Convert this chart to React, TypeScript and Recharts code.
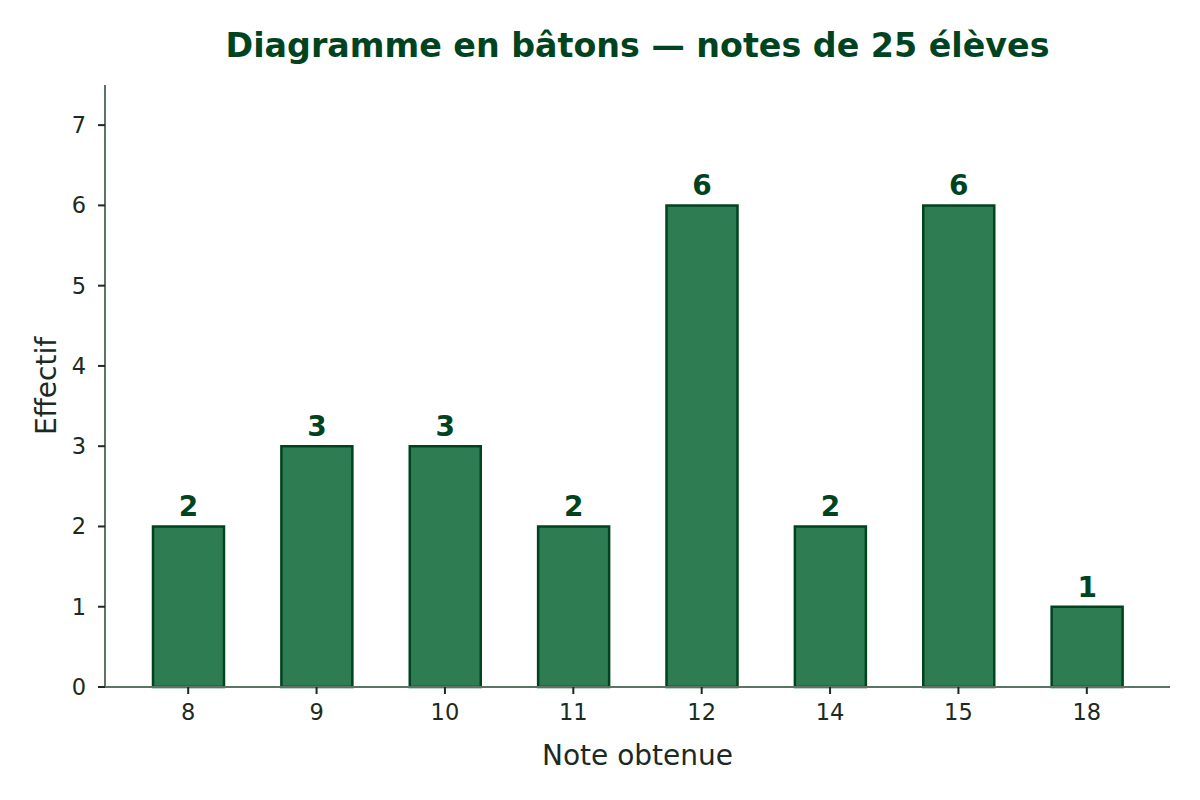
import React from 'react'
import { Bar, BarChart, LabelList, XAxis, YAxis } from 'recharts'

const notes = ['8', '9', '10', '11', '12', '14', '15', '18']
const effectifs = [2, 3, 3, 2, 6, 2, 6, 1]
const yTicks = [0, 1, 2, 3, 4, 5, 6, 7]

const data = notes.map((note, i) => ({ note, effectif: effectifs[i] }))

const font = '"DejaVu Sans", sans-serif'
const textColor = '#1b2a22'
const darkGreen = '#00441f'

const App = () => {
  return (
    <div style={{ position: 'absolute', left: 0, top: 0, width: 1200, height: 800, background: '#fff', fontFamily: font }}>
      <div
        style={{
          position: 'absolute',
          left: 105,
          width: 1065,
          top: 24,
          textAlign: 'center',
          fontSize: 33.3,
          fontWeight: 'bold',
          color: darkGreen,
          lineHeight: '44px',
        }}
      >
        Diagramme en bâtons — notes de 25 élèves
      </div>
      <BarChart width={1200} height={800} data={data} margin={{ top: 85, right: 30, left: 45, bottom: 0 }}>
        <XAxis
          dataKey="note"
          height={113}
          padding={{ left: 19, right: 19 }}
          tickSize={7}
          tickMargin={10}
          axisLine={{ stroke: '#5a7564', strokeWidth: 2 }}
          tickLine={{ stroke: textColor, strokeWidth: 2 }}
          tick={{ fill: textColor, fontSize: 22.5, fontFamily: font }}
          label={{ value: 'Note obtenue', position: 'insideBottom', offset: 35, fill: textColor, fontSize: 28, fontFamily: font }}
        />
        <YAxis
          width={60}
          domain={[0, 7.5]}
          ticks={yTicks}
          tickSize={7}
          tickMargin={12}
          axisLine={{ stroke: '#5a7564', strokeWidth: 2 }}
          tickLine={{ stroke: textColor, strokeWidth: 2 }}
          tick={{ fill: textColor, fontSize: 22.5, fontFamily: font }}
          label={{ value: 'Effectif', angle: -90, position: 'insideLeft', offset: 1, fill: textColor, fontSize: 28, fontFamily: font, style: { textAnchor: 'middle' } }}
        />
        <Bar dataKey="effectif" barSize={71} fill="#2e7d52" stroke={darkGreen} strokeWidth={2.5} isAnimationActive={false}>
          <LabelList dataKey="effectif" position="top" offset={10} fill={darkGreen} fontSize={28} fontWeight="bold" fontFamily={font} />
        </Bar>
      </BarChart>
    </div>
  )
}

export default App
